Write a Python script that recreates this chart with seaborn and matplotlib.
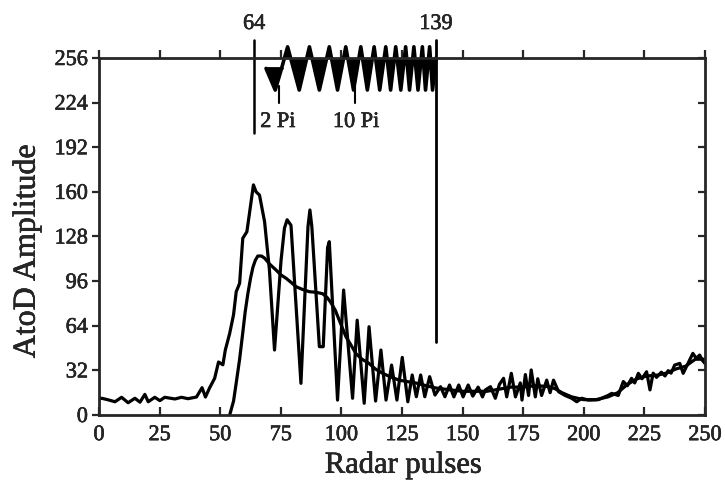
import numpy as np
import pandas as pd
import matplotlib
matplotlib.use("Agg")
import matplotlib.pyplot as plt
import matplotlib.patheffects as pe
import seaborn as sns

# Raw echo amplitude (vertices along the recorded trace)
pulse = [0, 1.1, 3.5, 6.6, 9.3, 12, 14.8, 16.9, 18.9, 20.3, 23, 25.1, 27.1, 31.3, 34,
         36.7, 40.2, 42.5, 43.9, 45.6, 47.7, 49.3, 51.1, 52.1, 53.9, 55.5, 56.6, 58,
         59.3, 61, 63.7, 64.8, 66.2, 68.3, 70.3, 72.4, 75.1, 76.5, 77.6, 79.2, 83.3,
         86.2, 87, 87.8, 90.9, 92.5, 94.3, 95, 98.4, 100.9, 104.6, 106.5, 109.4,
         111.4, 114.1, 116.3, 118.4, 120.7, 122.9, 125.1, 127.4, 129.2, 130.9, 132.7,
         134.4, 136.4, 138.6, 140.9, 142.7, 144.6, 146.4, 148.4, 150.2, 152.3, 154.2,
         156.4, 158.2, 159.4, 161.5, 163.5, 165.2, 166.9, 168.2, 170.1, 171.8, 173.8,
         174.5, 175.9, 177.2, 178.3, 180, 181, 182.6, 184.7, 186.1, 187.5, 189.6,
         192.3, 195, 197.1, 199.2, 201.9, 206, 210, 211.5, 214.2, 216.3, 218, 219.7,
         221, 222.5, 224, 225.9, 227.3, 228.6, 230, 232, 233.5, 234.8, 236, 237.5,
         239.6, 241, 243, 245, 246.4, 247.8, 249, 250]
amplitude = [11.5, 12, 11, 9.5, 12.7, 8.8, 12, 9.2, 14.8, 9.5, 12.7, 10.3, 12.7, 11.5,
             12.7, 11.7, 12.9, 19.6, 12.9, 19.4, 26.3, 38, 36, 46.6, 58.5, 72, 88.4,
             94.4, 126.7, 131.4, 165, 160, 157.7, 138.6, 104, 46.6, 111, 134, 140,
             136, 22.7, 135, 147, 135, 49, 49, 120, 124.3, 10.7, 89.6, 12, 68, 8.4,
             63.3, 10, 46.6, 10.7, 35.8, 10.7, 41.3, 9.5, 28.7, 13.1, 28.7, 13.1, 27.5,
             14.3, 20.3, 13.1, 21.5, 13, 21.5, 13, 21.5, 13.5, 20, 13, 18, 20.3, 12,
             22, 26.3, 13, 29.9, 13, 23, 10.7, 29, 14, 32.3, 13, 26, 14, 25, 16, 25,
             16.7, 14, 12, 9.5, 12, 10.7, 11, 14, 15.5, 14, 24, 21, 26.3, 23, 29.9,
             26, 31, 18, 30, 27, 30.7, 28, 31.8, 30, 35.8, 37, 29.9, 37, 44.2, 40.6,
             43, 39, 37]

# Smoothed envelope
smooth_pulse = [53.9, 55.5, 56.6, 58, 59.3, 60.3, 61.4, 62.5, 63.5, 64.5, 65.5, 67,
                68.3, 70.5, 73, 75, 77.2, 79.3, 81.3, 84, 86.8, 89.5, 92.2, 94, 95.5,
                97.5, 99.1, 100.5, 101.9, 104, 106, 108.5, 111.4, 114, 116.9, 120,
                123.8, 127, 130.6, 135, 138.9, 145, 150, 155, 160, 165, 170, 175, 180,
                185, 188, 191, 195, 200, 205, 210, 214, 218, 222, 226, 230, 234, 238,
                242, 246, 250]
smooth_amp = [0, 10, 23, 40, 59, 74, 87, 98, 106, 111, 114, 114, 112.5, 108, 104,
              100.5, 98, 95, 92, 90, 88.4, 88, 87, 84.5, 81, 75, 68, 62, 56, 50, 44,
              40, 37, 33, 30, 27.5, 25, 24, 23, 21, 19.4, 18, 17, 17, 17, 18.5, 20,
              20, 21, 20.5, 19, 16, 13, 11, 11, 13, 16, 22, 26, 28, 28.5, 30, 33, 35,
              40, 40]

# Phase trace drawn above the amplitude plot
phase_pulse = [68.9, 72.7, 75.3, 77.8, 82.6, 86.8, 90.9, 95.0, 98.4, 101.8,
               105.0, 108.0, 110.7, 113.5, 115.8, 118.3, 120.3, 122.4, 124.5, 126.5,
               128.1, 129.9, 131.6, 133.4, 134.7, 136.4, 137.6, 139.0]
phase_val = [248.5, 233, 248.5, 264, 233, 264, 233, 264, 233, 264, 233, 264,
             233, 264, 233, 264, 233, 264, 233, 264, 233, 264, 233, 264, 233, 264,
             233, 256]

window_start, window_end = 64, 139
phase_marks = {"2 Pi": 74.4, "10 Pi": 105.5}

x_ticks = list(range(0, 251, 25))
y_ticks = list(range(0, 257, 32))

sns.set_style("ticks")
plt.rcParams["font.family"] = ["Liberation Serif", "DejaVu Serif"]
plt.rcParams["axes.linewidth"] = 2.0

fig = plt.figure(figsize=(7.25, 4.93), dpi=100)
ax = fig.add_axes([0.1366, 0.1582, 0.8358, 0.7242])

raw = pd.DataFrame({"pulse": pulse, "amp": amplitude})
env = pd.DataFrame({"pulse": smooth_pulse, "amp": smooth_amp})
sns.lineplot(data=raw, x="pulse", y="amp", ax=ax, color="black", linewidth=2.3,
             estimator=None, sort=False)
sns.lineplot(data=env, x="pulse", y="amp", ax=ax, color="black", linewidth=2.3,
             estimator=None, sort=False)

# phase trace, filled lobes about its reference levels
px = np.array(phase_pulse)
py = np.array(phase_val)
first = px <= 75.3
ax.fill_between(px[first], py[first], 248.5, color="black", lw=0, clip_on=False)
ax.plot([px[0], px[2]], [248.5, 248.5], color="black", lw=2.0, clip_on=False)
rest = px >= 75.3
ax.fill_between(px[rest], py[rest], 256, color="black", lw=0, clip_on=False)
ax.plot(px, py, color="black", lw=2.6, clip_on=False)

# window markers
ax.plot([window_start, window_start], [202, 269], color="black", lw=1.8, clip_on=False)
ax.plot([window_end, window_end], [52, 269], color="black", lw=2.0, clip_on=False)
for label, xm in phase_marks.items():
    ax.plot([xm, xm], [236, 224], color="black", lw=1.5)

stroke = [pe.withStroke(linewidth=0.4, foreground="black")]
ax.text(window_start, 280, str(window_start), ha="center", va="center",
        fontsize=16, path_effects=stroke, clip_on=False)
ax.text(window_end, 280, str(window_end), ha="center", va="center",
        fontsize=16, path_effects=stroke, clip_on=False)
ax.text(66.5, 206.5, "2 Pi", ha="left", va="baseline", fontsize=16, path_effects=stroke)
ax.text(96.5, 206.5, "10 Pi", ha="left", va="baseline", fontsize=16, path_effects=stroke)

ax.set_xlim(0, 250)
ax.set_ylim(0, 256)
ax.set_xticks(x_ticks)
ax.set_yticks(y_ticks)
for s in ["left", "right", "top", "bottom"]:
    ax.spines[s].set_visible(True)
    ax.spines[s].set_linewidth(2.0)
ax.tick_params(axis="x", which="both", direction="in", length=6, width=1.6,
               top=True, labelsize=16, pad=8)
ax.tick_params(axis="y", which="both", direction="out", length=5, width=1.6,
               labelsize=16, pad=3)
ax.tick_params(axis="y", right=True)
for t in ax.yaxis.get_ticklines()[1::2]:
    t.set_marker(0)  # right-hand ticks point inward
for t in ax.xaxis.get_ticklines()[1::2]:
    t.set_marker(2)  # top ticks point outward
for lab in ax.get_xticklabels() + ax.get_yticklabels():
    lab.set_path_effects(stroke)

ax.set_xlabel("Radar pulses", fontsize=22, va="center", path_effects=stroke)
ax.set_ylabel("AtoD Amplitude", fontsize=23, va="center", path_effects=stroke)
ax.xaxis.set_label_coords(0.502, -0.14)
ax.yaxis.set_label_coords(-0.119, 0.459)

fig.savefig("out.png", dpi=100)
